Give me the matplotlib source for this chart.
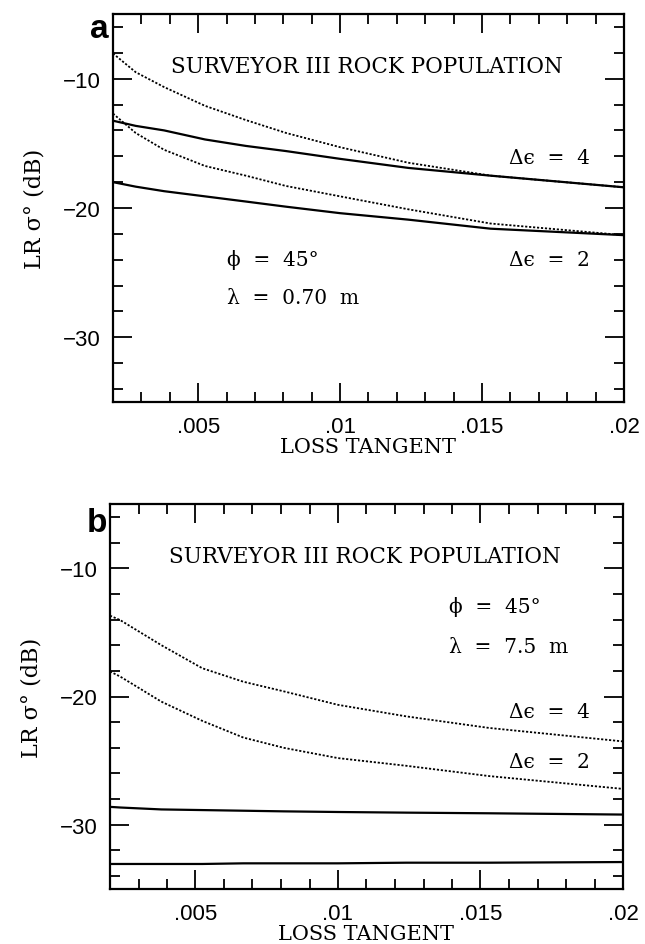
import matplotlib
matplotlib.use("Agg")
import matplotlib.pyplot as plt
from matplotlib.ticker import MultipleLocator, FixedFormatter, FixedLocator

# ---------------- data ----------------
# Panel a (lambda = 0.70 m)
xa = [0.002, 0.0028, 0.0038, 0.00524, 0.00668, 0.0081, 0.010, 0.0124, 0.0153, 0.020]
a_d4_dot = [-8.05, -9.5, -10.65, -12.1, -13.2, -14.2, -15.3, -16.5, -17.5, -18.4]
a_d4_sol = [-13.25, -13.65, -14.0, -14.7, -15.2, -15.6, -16.2, -16.9, -17.5, -18.4]
a_d2_dot = [-12.7, -14.2, -15.5, -16.75, -17.5, -18.3, -19.1, -20.1, -21.2, -22.1]
a_d2_sol = [-18.0, -18.35, -18.7, -19.1, -19.5, -19.9, -20.4, -20.9, -21.6, -22.1]

# Panel b (lambda = 7.5 m)
xb = [0.002, 0.00236, 0.0038, 0.00524, 0.00668, 0.0081, 0.010, 0.0124, 0.0153, 0.020]
b_d4_dot = [-13.7, -14.05, -16.0, -17.8, -18.85, -19.6, -20.65, -21.55, -22.45, -23.5]
b_d2_dot = [-18.05, -18.45, -20.4, -21.9, -23.2, -24.0, -24.8, -25.4, -26.2, -27.2]
b_d4_sol = [-28.6, -28.65, -28.8, -28.85, -28.9, -28.95, -29.0, -29.05, -29.1, -29.2]
b_d2_sol = [-33.05, -33.05, -33.05, -33.05, -33.0, -33.0, -33.0, -32.95, -32.95, -32.9]

xtick_vals = [0.005, 0.01, 0.015, 0.02]
xtick_labels = [".005", ".01", ".015", ".02"]
ytick_vals = [-30, -20, -10]
ytick_labels = ["\u221230", "\u221220", "\u221210"]

title_text = "SURVEYOR III ROCK POPULATION"
xlabel_text = "LOSS TANGENT"
ylabel_text = "LR \u03c3\u00b0 (dB)"

# ---------------- figure ----------------
fig = plt.figure(figsize=(6.45, 9.45), dpi=100)
serif = ["DejaVu Serif"]
sans = ["Liberation Sans", "DejaVu Sans"]
TXT = 14.5

ax_a = fig.add_axes([113/645, 1-403/945, 511/645, 388/945])
ax_b = fig.add_axes([110/645, 1-890/945, 513/645, 385/945])

dot = (0, (1.2, 1.0))

def style(ax):
    ax.set_xlim(0.002, 0.02)
    ax.set_ylim(-35, -5)
    ax.xaxis.set_major_locator(FixedLocator(xtick_vals))
    ax.xaxis.set_major_formatter(FixedFormatter(xtick_labels))
    ax.xaxis.set_minor_locator(MultipleLocator(0.001))
    ax.yaxis.set_major_locator(FixedLocator(ytick_vals))
    ax.yaxis.set_major_formatter(FixedFormatter(ytick_labels))
    ax.yaxis.set_minor_locator(MultipleLocator(2))
    ax.tick_params(which="both", direction="in", top=True, right=True, width=1.3)
    ax.tick_params(which="major", length=14)
    ax.tick_params(which="minor", length=7)
    ax.tick_params(axis="x", which="major", pad=10)
    ax.tick_params(axis="y", which="major", pad=9)
    for lab in ax.get_xticklabels() + ax.get_yticklabels():
        lab.set_family(sans)
        lab.set_fontsize(16)
    for s in ax.spines.values():
        s.set_linewidth(1.6)
    ax.set_xlabel(xlabel_text, family=serif, fontsize=15, labelpad=0)
    ax.set_ylabel(ylabel_text, family=serif, fontsize=16, labelpad=12)
    ax.text(0.496, 0.866, title_text, transform=ax.transAxes, ha="center",
            va="center", family=serif, fontsize=15.5)

style(ax_a)
style(ax_b)

# Panel a curves
ax_a.plot(xa, a_d4_dot, color="black", lw=1.3, ls=dot)
ax_a.plot(xa, a_d4_sol, color="black", lw=1.6)
ax_a.plot(xa, a_d2_dot, color="black", lw=1.3, ls=dot)
ax_a.plot(xa, a_d2_sol, color="black", lw=1.6)

ax_a.text(0.855, 0.63, "\u0394\u03f5  =  4", transform=ax_a.transAxes, ha="center",
          va="center", family=serif, fontsize=TXT)
ax_a.text(0.855, 0.368, "\u0394\u03f5  =  2", transform=ax_a.transAxes, ha="center",
          va="center", family=serif, fontsize=TXT)
ax_a.text(0.224, 0.368, "\u03d5  =  45\u00b0", transform=ax_a.transAxes, ha="left",
          va="center", family=serif, fontsize=TXT)
ax_a.text(0.224, 0.27, "\u03bb  =  0.70  m", transform=ax_a.transAxes, ha="left",
          va="center", family=serif, fontsize=TXT)

# Panel b curves
ax_b.plot(xb, b_d4_dot, color="black", lw=1.3, ls=dot)
ax_b.plot(xb, b_d2_dot, color="black", lw=1.3, ls=dot)
ax_b.plot(xb, b_d4_sol, color="black", lw=1.6)
ax_b.plot(xb, b_d2_sol, color="black", lw=1.6)

ax_b.text(0.66, 0.735, "\u03d5  =  45\u00b0", transform=ax_b.transAxes, ha="left",
          va="center", family=serif, fontsize=TXT)
ax_b.text(0.66, 0.63, "\u03bb  =  7.5  m", transform=ax_b.transAxes, ha="left",
          va="center", family=serif, fontsize=TXT)
ax_b.text(0.856, 0.46, "\u0394\u03f5  =  4", transform=ax_b.transAxes, ha="center",
          va="center", family=serif, fontsize=TXT)
ax_b.text(0.856, 0.33, "\u0394\u03f5  =  2", transform=ax_b.transAxes, ha="center",
          va="center", family=serif, fontsize=TXT)

# panel letters
fig.text(109/645, 1-38/945, "a", ha="right", va="baseline", family=sans,
         fontsize=24, fontweight="bold")
fig.text(107/645, 1-532/945, "b", ha="right", va="baseline", family=sans,
         fontsize=24, fontweight="bold")

fig.savefig("out.png", dpi=100)
